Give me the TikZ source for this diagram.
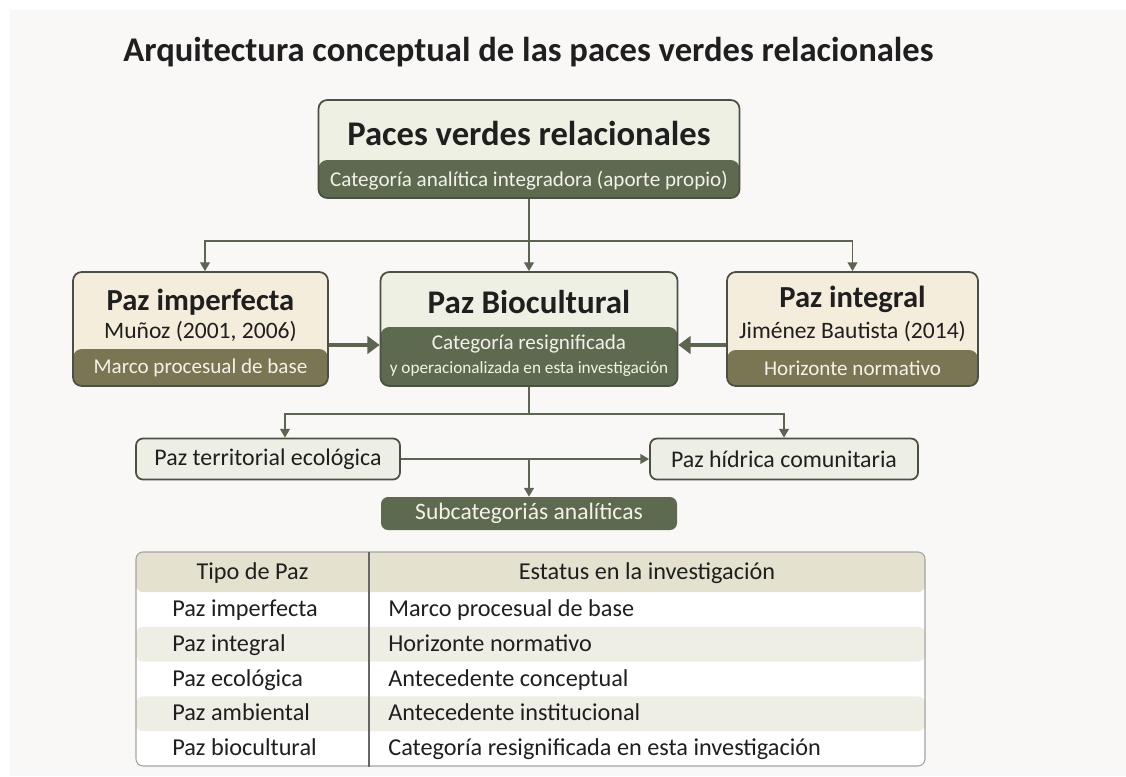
\documentclass[tikz,border=0pt]{standalone}
\usepackage{fontspec}
\setmainfont{Carlito}
\usepackage{xcolor}
\usetikzlibrary{positioning,calc,arrows.meta}

\definecolor{dkgreen}{HTML}{5E6A4F}
\definecolor{olive}{HTML}{7A7552}
\definecolor{lgreen}{HTML}{EEF0E3}
\definecolor{cream}{HTML}{F5EDDC}
\definecolor{pale}{HTML}{EEEFE4}
\definecolor{edge}{HTML}{4B5045}
\definecolor{arrclr}{HTML}{5B6552}
\definecolor{ink}{HTML}{1F1F1F}
\definecolor{paper}{HTML}{F2F2EA}
\definecolor{hdfill}{HTML}{E4E1CF}
\definecolor{stripe}{HTML}{EFEEE5}
\definecolor{frame}{HTML}{A3A39D}
\definecolor{backdrop}{HTML}{F9F8F7}

\begin{document}
\begin{tikzpicture}[
    box/.style={rectangle, draw=edge, line width=1pt, rounded corners=5pt, inner sep=0pt},
    band/.style 2 args={path picture={\fill[#1] (path picture bounding box.south west)
                 rectangle ([yshift=#2]path picture bounding box.south east);}},
    small/.style={rectangle, draw=edge, line width=1pt, rounded corners=4pt, fill=pale,
                  minimum height=0.82cm, inner sep=0pt},
    ttl/.style={font=\fontsize{19.7}{23}\selectfont\bfseries, text=ink},
    hd/.style={font=\fontsize{17.4}{20}\selectfont\bfseries, text=ink},
    who/.style={font=\fontsize{13.4}{16}\selectfont, text=ink},
    lbl/.style={font=\fontsize{12}{14}\selectfont, text=paper},
    cell/.style={font=\fontsize{13.8}{16}\selectfont, text=ink, inner sep=0pt,
                 text height=1.55ex, text depth=0.45ex},
    arr/.style={-{Triangle[length=5pt,width=5.5pt]}, line width=1.1pt, draw=arrclr},
    thk/.style={-{Triangle[length=7pt,width=10pt]}, line width=2.8pt, draw=arrclr},
  ]
  \useasboundingbox[fill=white] (0,0) rectangle (22.52,-15.52);
  \fill[backdrop] (0.2,-0.2) rectangle (22.52,-15.52);

  % ===== Title =====
  \node[ttl] (title) at (10.57,-1.04) {Arquitectura conceptual de las paces verdes relacionales};

  % ===== Top category =====
  \node[box, fill=lgreen, band={dkgreen}{0.76cm}, minimum width=8.42cm, minimum height=1.96cm] (pvr) at (10.58,-2.98) {};
  \node[ttl] (pvrhd) at (10.58,-2.66) {Paces verdes relacionales};
  \node[lbl] (pvrlbl) at (10.58,-3.62) {Categoría analítica integradora (aporte propio)};

  % ===== Middle row =====
  \node[box, fill=cream, band={olive}{0.74cm}, minimum width=5.1cm, minimum height=2.28cm] (pimp) at (4.01,-6.58) {};
  \node[hd] (pimphd) at (4.01,-6.04) {Paz imperfecta};
  \node[who] (pimpwho) at (4.01,-6.63) {Muñoz (2001, 2006)};
  \node[lbl] (pimplbl) at (4.01,-7.36) {Marco procesual de base};

  \node[box, fill=lgreen, band={dkgreen}{1.18cm}, minimum width=5.94cm, minimum height=2.28cm] (pbio) at (10.58,-6.58) {};
  \node[hd, font=\fontsize{18.8}{22}\selectfont\bfseries] (pbiohd) at (10.58,-6.05) {Paz Biocultural};
  \node[lbl] (pbiolbl) at (10.58,-6.88) {Categoría resignificada};
  \node[lbl, font=\fontsize{9.8}{12}\selectfont] (pbiolbl2) at (10.58,-7.38) {y operacionalizada en esta investigación};

  \node[box, fill=cream, band={olive}{0.72cm}, minimum width=5.02cm, minimum height=2.28cm] (pint) at (17.05,-6.58) {};
  \node[hd] (pinthd) at (17.05,-5.98) {Paz integral};
  \node[who] (pintwho) at (17.05,-6.63) {Jiménez Bautista (2014)};
  \node[lbl] (pintlbl) at (17.05,-7.36) {Horizonte normativo};

  \draw[arr] (pvr.south) -- (pbio.north);
  \draw[arr] (pvr.south) -- ++(0,-0.84) -| ([xshift=0.09cm]pimp.north);
  \draw[arr] (pvr.south) -- ++(0,-0.84) -| (pint.north);
  \draw[thk] ([yshift=-0.32cm]pimp.east) -- ([yshift=-0.32cm]pbio.west);
  \draw[thk] ([yshift=-0.32cm]pint.west) -- ([yshift=-0.32cm]pbio.east);

  % ===== Subcategories =====
  \node[small, minimum width=5.28cm] (pter) at (5.36,-9.18) {};
  \node[who, font=\fontsize{13.6}{16}\selectfont] at (pter) {Paz territorial ecológica};
  \node[small, minimum width=5.36cm] (phid) at (15.68,-9.18) {};
  \node[who, font=\fontsize{13.6}{16}\selectfont] at (phid) {Paz hídrica comunitaria};
  \node[rectangle, fill=dkgreen, rounded corners=4pt, minimum width=5.92cm, minimum height=0.66cm] (psub) at (10.58,-10.27) {};
  \node[lbl, font=\fontsize{13.4}{16}\selectfont] at (psub) {Subcategoriás analíticas};

  \draw[arr] (pbio.south) -- ++(0,-0.54) -| ([xshift=0.34cm]pter.north);
  \draw[arr] (pbio.south) -- ++(0,-0.54) -| (phid.north);
  \draw[arr] (pter.east) -- (phid.west);
  \draw[arr] (pter.east -| psub.north) -- (psub.north);

  % ===== Table =====
  \node[rectangle, draw=frame, line width=0.6pt, rounded corners=4pt, fill=white,
        minimum width=15.78cm, minimum height=4.28cm, inner sep=0pt,
        path picture={
          \fill[hdfill] (path picture bounding box.north west) rectangle ([yshift=-0.8cm]path picture bounding box.north east);
          \foreach \r in {1,3}
            \fill[stripe] ([yshift={-0.8cm-\r*0.696cm}]path picture bounding box.north west)
              rectangle ([yshift={-0.8cm-(\r+1)*0.696cm}]path picture bounding box.north east);
        }] (tab) at (10.61,-13.18) {};
  \coordinate (div) at (7.38,-11.04);
  \draw[draw=black!60, line width=0.8pt] (div) -- (div |- tab.south);

  \node[cell] (hdtipo) at (5.05,-11.49) {Tipo de Paz};
  \node[cell] (hdestatus) at (12.94,-11.49) {Estatus en la investigación};
  \foreach \tipo/\estatus [count=\i] in {Paz imperfecta/Marco procesual de base,
      Paz integral/Horizonte normativo, Paz ecológica/Antecedente conceptual,
      Paz ambiental/Antecedente institucional,
      Paz biocultural/Categoría resignificada en esta investigación}{
    \node[cell, anchor=west] (tipo\i) at (3.44,{-11.89-(\i-0.5)*0.696}) {\tipo};
    \node[cell, anchor=west] (estatus\i) at (7.76,{-11.89-(\i-0.5)*0.696}) {\estatus};
  }
\end{tikzpicture}
\end{document}
